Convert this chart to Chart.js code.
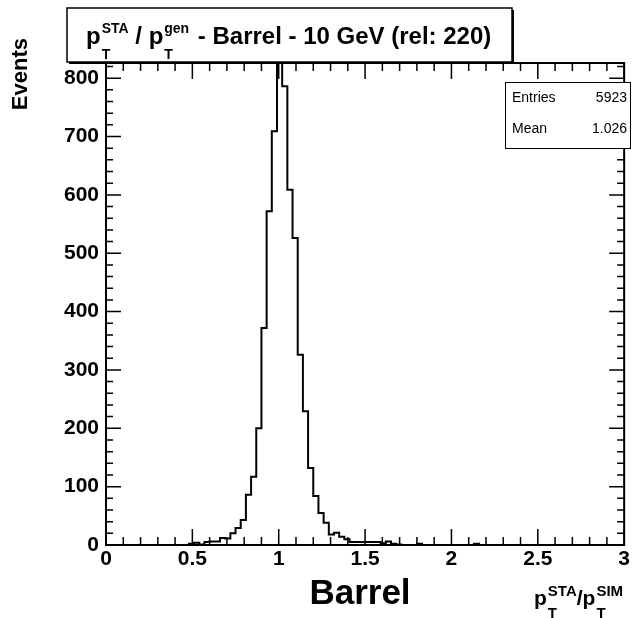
<!DOCTYPE html>
<html>
<head>
<meta charset="utf-8">
<script src="https://cdn.jsdelivr.net/npm/chart.js@4.4.1/dist/chart.umd.min.js"></script>
<style>
  html, body { margin: 0; padding: 0; background: #fff; }
  #wrap { width: 632px; height: 618px; }
</style>
</head>
<body>
<div id="wrap"><canvas id="histo" width="632" height="618"></canvas></div>
<script>
// ---- data ----
const binWidth = 0.03;           // 100 bins from 0 to 3
const counts = [
    0, 0, 0, 0, 0, 0, 0, 0, 0, 0,
    0, 0, 0, 0, 0, 0, 2, 4, 1, 5,
    6, 6, 12, 11, 20, 29, 43, 86, 117, 200,
    372, 572, 709, 834, 786, 609, 526, 326, 229, 132,
    84, 55, 38, 18, 21, 14, 10, 5, 5, 5,
    5, 5, 5, 3, 6, 2, 1, 0, 0, 0,
    2, 0, 0, 0, 0, 0, 0, 0, 0, 0,
    0, 2, 0, 0, 0, 0, 0, 0, 0, 0,
    0, 0, 0, 0, 0, 0, 0, 0, 0, 0,
    0, 0, 0, 0, 0, 0, 0, 0, 0, 0
];
const xTickLabels = [0, 0.5, 1, 1.5, 2, 2.5, 3];
const yTickLabels = [0, 100, 200, 300, 400, 500, 600, 700, 800];
const xRange = [0, 3];
const yRange = [0, 826];
const statsLabels = ['Entries', 'Mean'];
const statsValues = ['5923', '1.026'];

const FONT = "'Liberation Sans', Arial, sans-serif";

// histogram outline: one point per low bin edge, closed at the upper edge
const points = counts.map((c, i) => ({ x: i * binWidth, y: c }));
points.push({ x: counts.length * binWidth, y: 0 });

// draws p with a sub "T" and a superscript, returns the new x
function drawPT(ctx, x, base, sup, size, small) {
    ctx.font = 'bold ' + size + 'px ' + FONT;
    ctx.fillText('p', x, base);
    x += ctx.measureText('p').width + 1;
    ctx.font = 'bold ' + small + 'px ' + FONT;
    ctx.fillText(sup, x, base - size * 0.45);
    ctx.fillText('T', x, base + size * 0.62);
    return x + Math.max(ctx.measureText(sup).width, ctx.measureText('T').width);
}

const rootPad = {
    id: 'rootPad',
    afterDatasetsDraw(chart) {
        const { ctx, chartArea: a, scales: { x, y } } = chart;
        ctx.save();
        ctx.strokeStyle = '#000';
        ctx.lineWidth = 2;
        ctx.strokeRect(a.left, a.top, a.right - a.left, a.bottom - a.top);

        ctx.lineWidth = 1.5;
        ctx.beginPath();
        for (let i = 0; i <= 30; i++) {
            const v = i / 10;
            const px = x.getPixelForValue(v);
            const len = i % 5 === 0 ? 16 : 8;
            ctx.moveTo(px, a.bottom); ctx.lineTo(px, a.bottom - len);
            ctx.moveTo(px, a.top); ctx.lineTo(px, a.top + len);
        }
        for (let v = 0; v <= yRange[1]; v += 20) {
            const py = y.getPixelForValue(v);
            const len = v % 100 === 0 ? 15 : 7;
            ctx.moveTo(a.left, py); ctx.lineTo(a.left + len, py);
            ctx.moveTo(a.right, py); ctx.lineTo(a.right - len, py);
        }
        ctx.stroke();
        ctx.restore();
    },
    afterDraw(chart) {
        const { ctx } = chart;
        ctx.save();
        ctx.fillStyle = '#000';
        ctx.textBaseline = 'alphabetic';

        // title box with shadow
        ctx.fillRect(69, 10, 445, 54);
        ctx.fillStyle = '#fff';
        ctx.fillRect(67, 8, 445, 54);
        ctx.strokeStyle = '#000';
        ctx.lineWidth = 1.5;
        ctx.strokeRect(67, 8, 445, 54);

        ctx.fillStyle = '#000';
        let tx = drawPT(ctx, 86, 44, 'STA', 24, 14);
        ctx.font = 'bold 24px ' + FONT;
        ctx.fillText(' / ', tx, 44);
        tx += ctx.measureText(' / ').width;
        tx = drawPT(ctx, tx, 44, 'gen', 24, 14);
        ctx.font = 'bold 24px ' + FONT;
        ctx.fillText(' - Barrel - 10 GeV (rel: 220)', tx + 2, 44);

        // stats box
        ctx.fillStyle = '#fff';
        ctx.fillRect(505, 82, 126, 67);
        ctx.lineWidth = 1;
        ctx.strokeRect(505.5, 82.5, 125, 66);
        ctx.fillStyle = '#000';
        ctx.font = '14px ' + FONT;
        statsLabels.forEach((lab, i) => {
            const base = 102 + i * 31;
            ctx.textAlign = 'left';
            ctx.fillText(lab, 512, base);
            ctx.textAlign = 'right';
            ctx.fillText(statsValues[i], 627, base);
        });
        ctx.textAlign = 'left';

        // y axis title
        ctx.save();
        ctx.translate(27, 38);
        ctx.rotate(-Math.PI / 2);
        ctx.font = 'bold 22px ' + FONT;
        ctx.textAlign = 'right';
        ctx.fillText('Events', 0, 0);
        ctx.restore();

        // x axis title
        let ax = drawPT(ctx, 534, 605, 'STA', 21, 15);
        ctx.font = 'bold 21px ' + FONT;
        ctx.fillText('/', ax, 605);
        ax += ctx.measureText('/').width;
        drawPT(ctx, ax, 605, 'SIM', 21, 15);

        // big label
        ctx.font = 'bold 35px ' + FONT;
        ctx.textAlign = 'center';
        ctx.fillText('Barrel', 360, 604);
        ctx.restore();
    }
};

new Chart(document.getElementById('histo'), {
    type: 'line',
    data: {
        datasets: [{
            data: points,
            stepped: 'before',
            borderColor: '#000',
            borderWidth: 2,
            pointRadius: 0,
            fill: false,
        }]
    },
    options: {
        responsive: false, animation: false, devicePixelRatio: 1,
        layout: { padding: { top: 63, right: 6, left: 0, bottom: 0 } },
        plugins: { legend: { display: false }, tooltip: { enabled: false } },
        scales: {
            x: {
                type: 'linear', min: xRange[0], max: xRange[1],
                grid: { display: false, drawTicks: false }, border: { display: false },
                afterBuildTicks: s => { s.ticks = xTickLabels.map(v => ({ value: v })); },
                afterFit: s => { s.height = 73; },
                ticks: {
                    color: '#000', padding: 2, maxRotation: 0, autoSkip: false,
                    font: { family: FONT, size: 21, weight: 'bold' },
                    callback: v => String(v)
                }
            },
            y: {
                type: 'linear', min: yRange[0], max: yRange[1],
                grid: { display: false, drawTicks: false }, border: { display: false },
                afterBuildTicks: s => { s.ticks = yTickLabels.map(v => ({ value: v })); },
                afterFit: s => { s.width = 106; },
                ticks: {
                    color: '#000', padding: 7,
                    font: { family: FONT, size: 21, weight: 'bold' },
                    callback: v => String(v)
                }
            }
        }
    },
    plugins: [rootPad]
});
</script>
</body>
</html>
